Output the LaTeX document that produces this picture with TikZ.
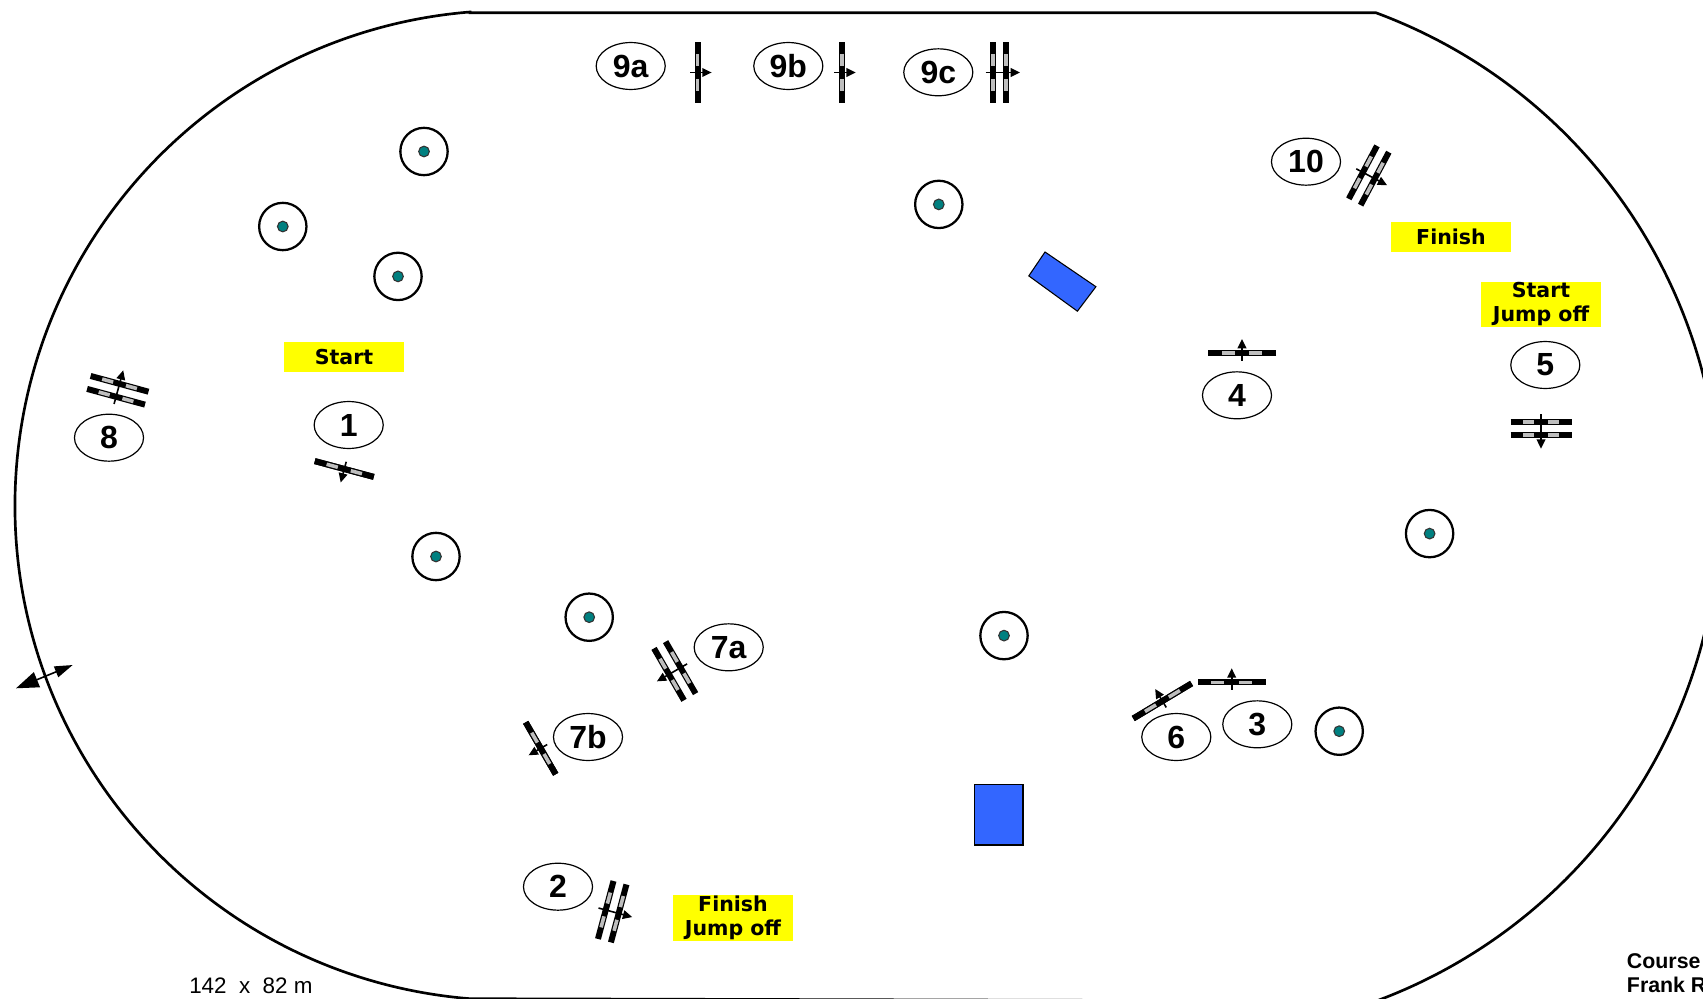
\documentclass[tikz,border=0pt]{standalone}
\usepackage{fontspec}
\setmainfont{Liberation Sans}
\newfontfamily\verd{DejaVu Sans}
\usetikzlibrary{shapes.geometric,arrows.meta}
\definecolor{teal1}{RGB}{0,128,128}
\definecolor{blue1}{RGB}{51,102,255}
\definecolor{gray1}{RGB}{190,190,190}
\definecolor{yellow1}{RGB}{255,255,0}
\tikzset{
  num/.style={ellipse,draw=black,line width=0.9pt,minimum width=51.8pt,minimum height=35.2pt,inner sep=0pt,font=\fontsize{24}{24}\selectfont\bfseries},
  flag/.style={fill=yellow1,inner sep=0pt,minimum width=90pt,align=center,font=\verd\fontsize{15.4}{18}\selectfont\bfseries},
  ring/.style={circle,draw=black,line width=1.7pt,fill=white,minimum size=35.5pt,inner sep=0pt},
  dot/.style={circle,draw=black!80,line width=0.8pt,fill=teal1,minimum size=8pt,inner sep=0pt},
  obst/.style={draw=black,line width=0.8pt,fill=blue1},
  arena/.style={draw=black,line width=2pt},
  rail/.style={line width=4.5pt,draw=black},
  railgap/.style={fill=gray1},
  dirarrow/.style={line width=1.2pt,-{Triangle[length=7pt,width=6.5pt]}},
  smalltxt/.style={inner sep=0pt,anchor=base west}
}
% #1 name, #2 x, #3 y, #4 arrow direction, #5 rail length, #6 half gap
\newcommand{\jumpat}[6]{%
  \begin{scope}[shift={(#2,#3)},rotate=#4,x=0.75pt,y=0.75pt]
    \foreach \g in {#6,-#6}{%
      \draw[rail] (\g,-#5/2) -- (\g,#5/2);
      \fill[railgap] (\g-1.8,0.205*#5-0.095*#5) rectangle (\g+1.8,0.205*#5+0.095*#5);
      \fill[railgap] (\g-1.8,-0.205*#5-0.095*#5) rectangle (\g+1.8,-0.205*#5+0.095*#5);
    }
    \coordinate (#1t) at (-7.5-#6,0);
    \coordinate (#1h) at (14+#6,0);
    \draw[dirarrow] (#1t) -- (#1h);
  \end{scope}}
\newcommand{\markat}[3]{%
  \node[ring] (#1) at (#2,#3) {};
  \node[dot] (#1d) at (#2,#3) {};}
\begin{document}
\begin{tikzpicture}[x=0.75pt,y=-0.75pt]
\useasboundingbox (0,0) rectangle (1703,999);
% arena
\draw[arena] (470,12.8) -- (1376,12.8)
  arc[start angle=69.67,end angle=-69.67,radius=395.25pt]
  -- (470,998.7)
  arc[start angle=265.37,end angle=94.63,radius=371.25pt] -- cycle;
% crossing arrow
\coordinate (gateA) at (16,688.3);
\coordinate (gateB) at (72.7,665);
\draw[line width=1.2pt,{Triangle[length=17pt,width=12pt]}-{Triangle[length=13.5pt,width=8.5pt]}] (gateA) -- (gateB);
% obstacles
\draw[obst] (974.5,784.5) rectangle (1023,845);
\draw[obst] (1045,252) -- (1095.9,286.7) -- (1077.4,311.2) -- (1028.8,275.9) -- cycle;
% yellow flags
\node[flag,minimum height=22.5pt] (fs) at (344,357) {Start};
\node[flag,minimum height=22.5pt] (ff) at (1451,237) {Finish};
\node[flag,minimum height=33.75pt] (fj) at (1541,304.5) {Start\\Jump off};
\node[flag,minimum height=34.5pt] (fk) at (733,918) {Finish\\Jump off};
% round marks
\markat{m1}{424}{151.5}
\markat{m2}{282.8}{226.5}
\markat{m3}{398}{276.4}
\markat{m4}{938.8}{204.4}
\markat{m5}{436}{556.5}
\markat{m6}{589.2}{617.2}
\markat{m7}{1004}{635.6}
\markat{m8}{1429.6}{533.6}
\markat{m9}{1339.2}{731.2}
% jumps
\jumpat{j9a}{697.6}{72.5}{0}{61}{0}
\jumpat{j9b}{841.8}{72.5}{0}{61}{0}
\jumpat{j9c}{999.5}{72.5}{0}{61}{6.5}
\jumpat{j8}{117.8}{390.3}{74.8}{60}{6.7}
\jumpat{j1}{344.3}{469}{-105}{61}{0}
\jumpat{j6}{1162.4}{701}{121}{68}{0}
\jumpat{j3}{1231.7}{682.3}{90}{68}{0}
\jumpat{j4}{1242}{353}{90}{68}{0}
\jumpat{j5}{1541}{428.3}{-90}{61}{6.4}
\jumpat{j10}{1368.8}{175.5}{-28}{60}{6.7}
\jumpat{j7a}{674.8}{671}{210}{60}{6.7}
\jumpat{j7b}{540.7}{748.3}{210}{60}{0}
\jumpat{j2}{612.2}{911.7}{-15}{60}{6.7}
% numbers
\node[num] (n9a) at (630.7,66) {9a};
\node[num] (n9b) at (788.3,66) {9b};
\node[num] (n9c) at (938.3,72.3) {9c};
\node[num] (n8) at (109,437.7) {8};
\node[num] (n1) at (348.7,425) {1};
\node[num] (n6) at (1176.3,737) {6};
\node[num] (n3) at (1257.3,724.3) {3};
\node[num] (n4) at (1237,395.3) {4};
\node[num] (n5) at (1545.3,365) {5};
\node[num] (n10) at (1306,161.7) {10};
\node[num] (n7a) at (728.7,647.3) {7a};
\node[num] (n7b) at (588,737) {7b};
\node[num] (n2) at (558,886.7) {2};
% captions
\node[smalltxt,font=\fontsize{16.8}{16.8}\selectfont] (size) at (189,993) {142\ \ x\ \ 82 m};
\node[smalltxt,font=\fontsize{16}{16}\selectfont\bfseries] (c1) at (1626.7,968) {Course D};
\node[smalltxt,font=\fontsize{16}{16}\selectfont\bfseries] (c2) at (1626.7,992) {Frank Re};
\end{tikzpicture}
\end{document}
